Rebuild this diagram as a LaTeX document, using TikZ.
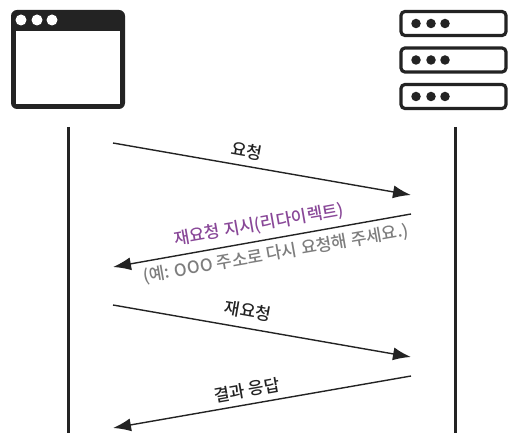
\documentclass[tikz,border=0pt]{standalone}
\usepackage{fontspec}
\setmainfont{Noto Sans CJK KR Medium}
\usetikzlibrary{arrows.meta}
\definecolor{redirpurple}{RGB}{137,72,152}
\definecolor{notegray}{RGB}{125,125,125}
\definecolor{icondark}{RGB}{35,35,35}

\begin{document}
\begin{tikzpicture}[x=1pt,y=-1pt,
    msg/.style={-{Latex[length=18pt,width=13pt]},line width=1.4pt,icondark},
    life/.style={line width=3pt,icondark},
    lbl/.style={font=\fontsize{17}{17}\selectfont,text=icondark,inner sep=0pt},
    unit/.style={rectangle,draw=icondark,line width=3.2pt,rounded corners=4pt,minimum width=105pt,minimum height=24pt,inner sep=0pt},
    dot/.style={circle,fill=icondark,minimum size=9.5pt,inner sep=0pt},
    hole/.style={circle,fill=white,minimum size=11pt,inner sep=0pt}]
    \useasboundingbox (0,0) rectangle (516,443);
    % browser
    \fill[icondark,rounded corners=6pt] (11,10) rectangle (125,109);
    \fill[white] (16,31) rectangle (120,104);
    \node[hole] (b1) at (21,20) {};
    \node[hole] (b2) at (37,20) {};
    \node[hole] (b3) at (52,20) {};
    % server
    \foreach \r/\y in {1/23.5,2/60,3/96.5} {
        \node[unit] (s\r) at (453.5,\y) {};
        \node[dot] at (416,\y) {};
        \node[dot] at (431,\y) {};
        \node[dot] at (445,\y) {};
    }
    % lifelines
    \coordinate (ctop) at (68,127);
    \coordinate (cbot) at (68,433);
    \coordinate (stop) at (455,127);
    \coordinate (sbot) at (455,433);
    \draw[life] (ctop) -- (cbot);
    \draw[life] (stop) -- (sbot);
    % messages
    \coordinate (a1) at (113,143);
    \coordinate (a2) at (411,195);
    \coordinate (b1e) at (411,214);
    \coordinate (b2e) at (113,267);
    \coordinate (c1) at (113,305);
    \coordinate (c2) at (411,357);
    \coordinate (d1) at (411,376);
    \coordinate (d2) at (113,428);
    \draw[msg] (a1) -- (a2);
    \draw[msg] (b1e) -- (b2e);
    \draw[msg] (c1) -- (c2);
    \draw[msg] (d1) -- (d2);
    \node[lbl,rotate=-10] (req) at (247,151) {요청};
    \node[lbl,rotate=10,text=redirpurple] (redir) at (259,225) {재요청 지시(리다이렉트)};
    \node[lbl,rotate=10,text=notegray] (note) at (276,254) {(예: OOO 주소로 다시 요청해 주세요.)};
    \node[lbl,rotate=-10] (rereq) at (248,311) {재요청};
    \node[lbl,rotate=10] (res) at (247,390) {결과 응답};
\end{tikzpicture}
\end{document}
